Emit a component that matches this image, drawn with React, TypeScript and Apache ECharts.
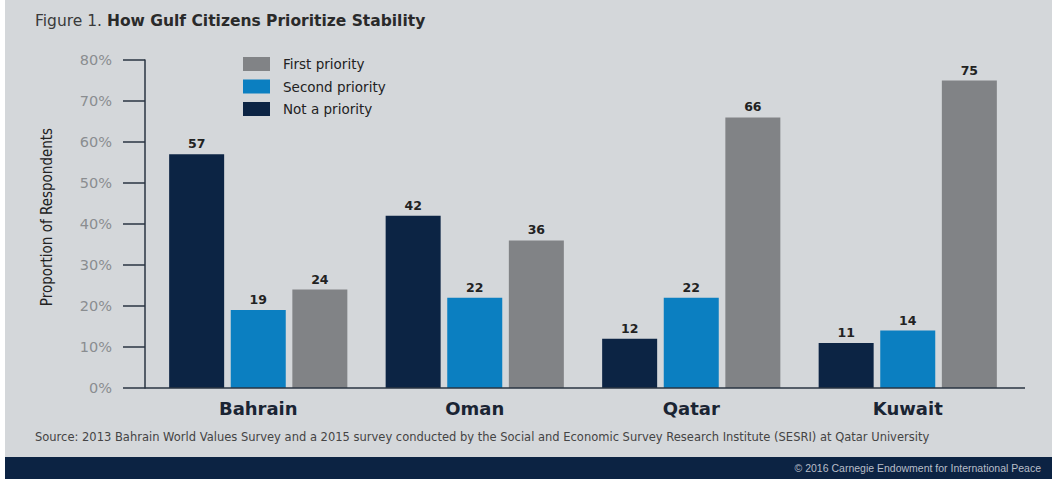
import React, { useEffect, useRef } from "react";
import * as echarts from "echarts";

const countries = ["Bahrain", "Oman", "Qatar", "Kuwait"];
const notPriority = [57, 42, 12, 11];
const secondPriority = [19, 22, 22, 14];
const firstPriority = [24, 36, 66, 75];
const yTicks = [0, 10, 20, 30, 40, 50, 60, 70, 80];

const NAVY = "#0c2444";
const BLUE = "#0b7fc1";
const GRAY = "#818386";

export default function App() {
  const ref = useRef<HTMLDivElement>(null);
  useEffect(() => {
    document.body.style.margin = "0";
    const chart = echarts.init(ref.current!, null, { renderer: "svg" });
    const labelCfg = {
      show: true,
      position: "top",
      distance: 4,
      color: "#222",
      fontSize: 12.5,
      fontWeight: "bold",
      fontFamily: "DejaVu Sans",
    };
    const mk = (name: string, data: number[], color: string) => ({
      name,
      type: "bar",
      data,
      barWidth: 55,
      barGap: "12%",
      itemStyle: { color },
      label: labelCfg,
    });
    chart.setOption({
      animation: false,
      backgroundColor: "#ffffff",
      graphic: [
        { type: "rect", z: -10, shape: { x: 5, y: 0, width: 1047, height: 457 }, style: { fill: "#d4d7da" } },
        { type: "rect", z: -10, shape: { x: 5, y: 457, width: 1047, height: 22 }, style: { fill: "#0c2343" } },
        { type: "line", z: 10, shape: { x1: 145, y1: 388, x2: 1025, y2: 388 }, style: { stroke: "#2a3442", lineWidth: 1.5 } },
        {
          type: "text", left: 35, top: 13,
          style: {
            text: "{a|Figure 1. }{b|How Gulf Citizens Prioritize Stability}",
            rich: {
              a: { fontFamily: "DejaVu Sans", fontSize: 15.5, fill: "#3a3a3a" },
              b: { fontFamily: "DejaVu Sans", fontSize: 15.5, fontWeight: "bold", fill: "#2a2a2a" },
            },
          },
        },
        {
          type: "text", left: 35, top: 431,
          style: {
            text: "Source: 2013 Bahrain World Values Survey and a 2015 survey conducted by the Social and Economic Survey Research Institute (SESRI) at Qatar University",
            fontFamily: "DejaVu Sans", fontSize: 11.5, fill: "#444",
          },
        },
        {
          type: "text", right: 18, top: 462,
          style: {
            text: "© 2016 Carnegie Endowment for International Peace",
            fontFamily: "Liberation Sans", fontSize: 10.5, fill: "#b8bec8",
          },
        },
      ],
      legend: {
        data: ["First priority", "Second priority", "Not a priority"],
        orient: "vertical",
        left: 243,
        top: 57,
        padding: 0,
        itemWidth: 27,
        itemHeight: 14,
        itemGap: 8.5,
        icon: "rect",
        textStyle: { color: "#222", fontSize: 13.5, fontFamily: "DejaVu Sans", padding: [0, 0, 0, 8] },
      },
      grid: { left: 150, right: 43, top: 60, bottom: 91 },
      xAxis: {
        type: "category",
        data: countries,
        axisLine: { show: false },
        axisTick: { show: false },
        axisLabel: { color: "#1a2433", fontSize: 18, fontWeight: "bold", fontFamily: "DejaVu Sans", margin: 11 },
      },
      yAxis: {
        type: "value",
        min: 0,
        max: 80,
        interval: 10,
        offset: 5,
        name: "Proportion of Respondents",
        nameLocation: "middle",
        nameGap: 91,
        nameTextStyle: { fontFamily: "DejaVu Sans Condensed, Liberation Sans", fontSize: 15, color: "#222", padding: [0, 0, 0, 14] },
        splitLine: { show: false },
        axisLine: { show: true, lineStyle: { color: "#2a3442", width: 1.5 } },
        axisTick: { show: true, length: 22, lineStyle: { color: "#2a3442", width: 1.5 } },
        axisLabel: {
          color: "#8a8d90",
          fontSize: 14.5,
          fontFamily: "DejaVu Sans",
          margin: 33,
          formatter: (v: number) => (yTicks.includes(v) ? v + "%" : ""),
        },
      },
      series: [
        mk("Not a priority", notPriority, NAVY),
        mk("Second priority", secondPriority, BLUE),
        mk("First priority", firstPriority, GRAY),
      ],
    });
    return () => chart.dispose();
  }, []);
  return (
    <div style={{ position: "absolute", left: 0, top: 0, width: 1059, height: 479 }}>
      <div ref={ref} style={{ width: 1059, height: 479 }} />
    </div>
  );
}
